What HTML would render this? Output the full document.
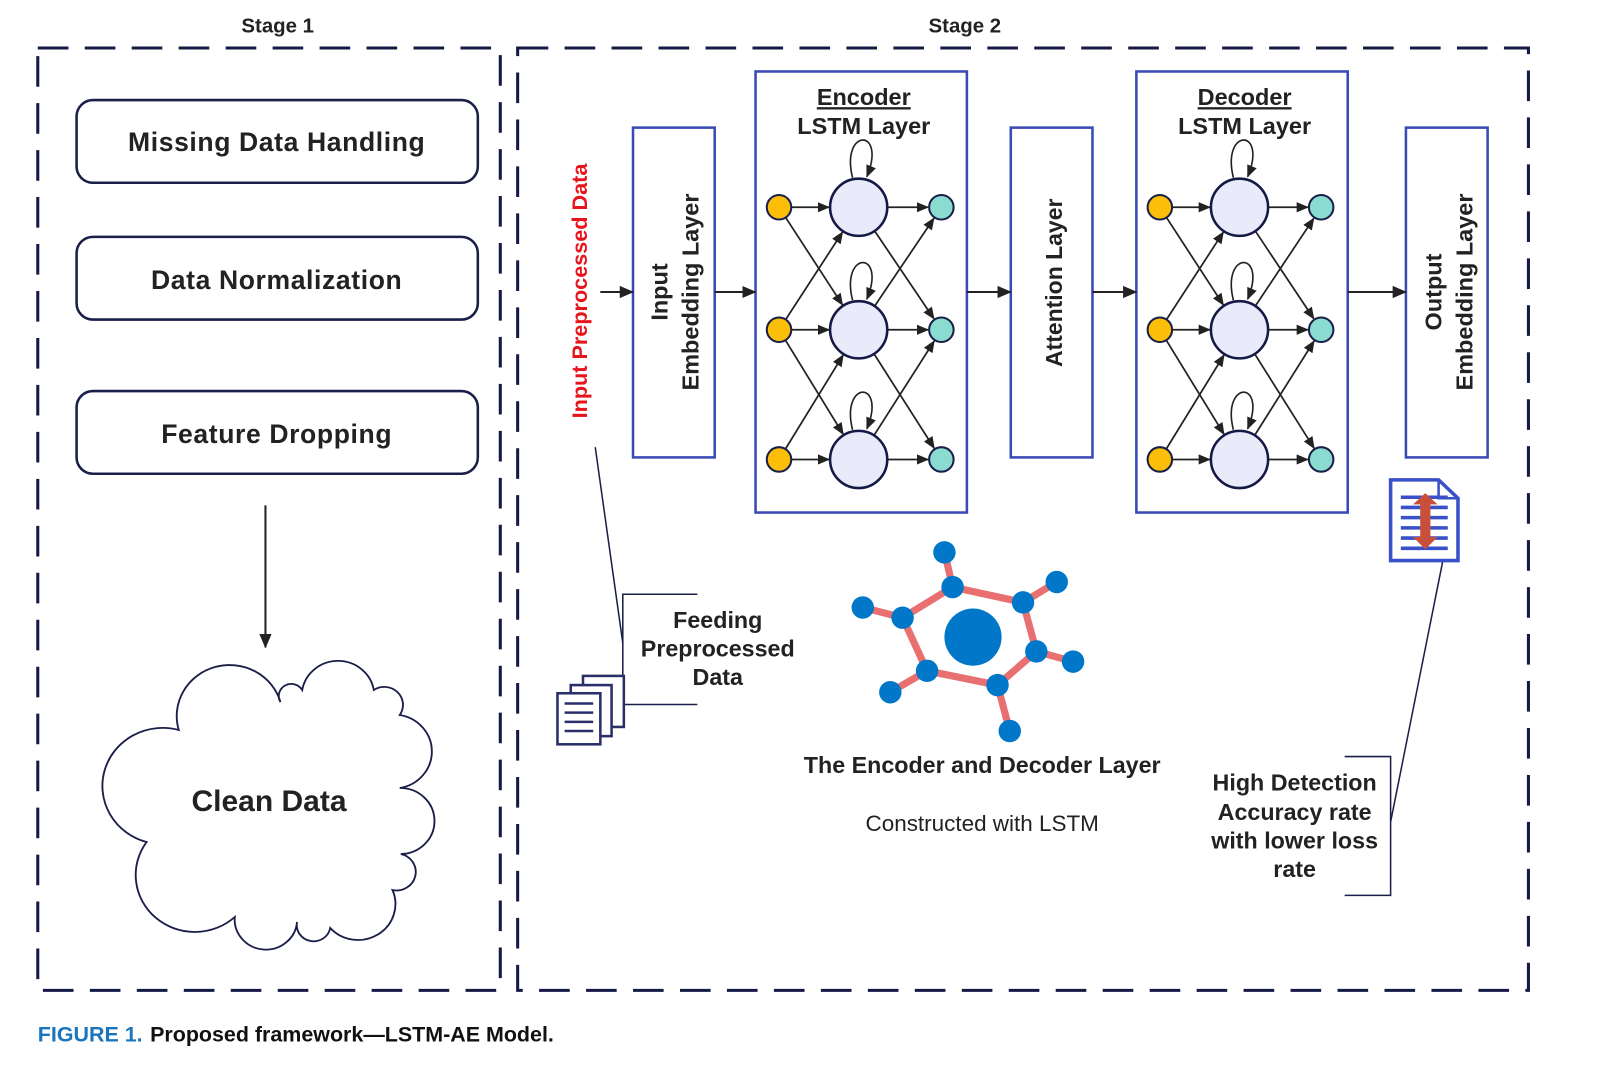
<!DOCTYPE html>
<html><head><meta charset="utf-8"><style>
html,body{margin:0;padding:0;background:#fff;}
svg{display:block;font-family:"Liberation Sans",sans-serif;}
</style></head><body>
<svg id="s" width="1601" height="1070" viewBox="0 0 1601 1070" xmlns="http://www.w3.org/2000/svg">
<defs>
<marker id="a" markerWidth="12" markerHeight="12" refX="11" refY="6" orient="auto" markerUnits="userSpaceOnUse"><path d="M0,1 L12,6 L0,11 Z" fill="#222"/></marker>
<marker id="b" markerWidth="14" markerHeight="14" refX="13" refY="7" orient="auto" markerUnits="userSpaceOnUse"><path d="M0,1 L14,7 L0,13 Z" fill="#222"/></marker>
</defs>
<rect width="1601" height="1070" fill="#fff"/>
<!-- cloud in actual coords -->
<g transform="translate(13.8,0) scale(1.0375,1)">
<path d="M159,730 A50,50 0 0 1 257,702 A11,11 0 0 1 278,690 A35,35 0 0 1 347,690 A18,18 0 0 1 372,715 A37,37 0 0 1 372,788 A33,33 0 0 1 373,854 A18,18 0 0 1 365,890 A36,36 0 0 1 305,928 A16,16 0 0 1 273,922 A30,30 0 0 1 213,917 A57,57 0 0 1 128,842 A58,58 0 0 1 159,730 Z" fill="#fff" stroke="#1a1f4a" stroke-width="1.8"/>
</g>
<text x="269" y="811" font-size="30" font-weight="bold" text-anchor="middle" fill="#222">Clean Data</text>
<g transform="scale(1.021)" id="g">
<text x="272" y="32" font-size="20" font-weight="bold" text-anchor="middle" fill="#222">Stage 1</text>
<text x="945" y="32" font-size="20" font-weight="bold" text-anchor="middle" fill="#222">Stage 2</text>
<path d="M37,47 H490 V970 H37 Z" fill="none" stroke="#141a45" stroke-width="3" stroke-dasharray="30,16"/>
<path d="M507,47 H1497 V970 H507 Z" fill="none" stroke="#141a45" stroke-width="3" stroke-dasharray="30,16"/>
<g fill="none" stroke="#1a1f4a" stroke-width="2.5">
<rect x="75" y="98" width="393" height="81" rx="16"/>
<rect x="75" y="232" width="393" height="81" rx="16"/>
<rect x="75" y="383" width="393" height="81" rx="16"/>
</g>
<g font-size="26" font-weight="bold" text-anchor="middle" fill="#222" letter-spacing="0.6">
<text x="271" y="148">Missing Data Handling</text>
<text x="271" y="283">Data Normalization</text>
<text x="271" y="434">Feature Dropping</text>
</g>
<line x1="260" y1="495" x2="260" y2="634" stroke="#222" stroke-width="2" marker-end="url(#b)"/>
<g fill="#fff" stroke="#3a4bb8" stroke-width="2.5">
<rect x="620" y="125" width="80" height="323"/>
<rect x="740" y="70" width="207" height="432"/>
<rect x="990" y="125" width="80" height="323"/>
<rect x="1113" y="70" width="207" height="432"/>
<rect x="1377" y="125" width="80" height="323"/>
</g>
<g font-size="23" font-weight="bold" text-anchor="middle" fill="#222">
<text x="846" y="103" text-decoration="underline">Encoder</text>
<text x="846" y="131">LSTM Layer</text>
<text x="1219" y="103" text-decoration="underline">Decoder</text>
<text x="1219" y="131">LSTM Layer</text>
<text transform="translate(654,286) rotate(-90)">Input</text>
<text transform="translate(684,286) rotate(-90)">Embedding Layer</text>
<text transform="translate(1040,277) rotate(-90)" font-size="22.5">Attention Layer</text>
<text transform="translate(1412,286) rotate(-90)">Output</text>
<text transform="translate(1442,286) rotate(-90)">Embedding Layer</text>
<text transform="translate(575,285) rotate(-90)" fill="#e8141c" font-size="21.2">Input Preprocessed Data</text>
</g>
<g stroke="#222" stroke-width="2" marker-end="url(#b)">
<line x1="588" y1="286" x2="620" y2="286"/>
<line x1="700" y1="286" x2="740" y2="286"/>
<line x1="947" y1="286" x2="990" y2="286"/>
<line x1="1070" y1="286" x2="1113" y2="286"/>
<line x1="1320" y1="286" x2="1377" y2="286"/>
</g>
<g id="nets"></g>
<g stroke="#1a1f4a" stroke-width="1.5" fill="none">
<polyline points="583,438 610,630"/>
<polyline points="683,582 610,582 610,690 683,690"/>
<polyline points="1413,550 1362,805"/>
<polyline points="1317,741 1362,741 1362,877 1317,877"/>
</g>
<g font-size="22.8" font-weight="bold" text-anchor="middle" fill="#222">
<text x="703" y="615">Feeding</text>
<text x="703" y="643">Preprocessed</text>
<text x="703" y="671">Data</text>
<text x="1268" y="774">High Detection</text>
<text x="1268" y="803">Accuracy rate</text>
<text x="1268" y="831">with lower loss</text>
<text x="1268" y="859">rate</text>
<text x="962" y="757">The Encoder and Decoder Layer</text>
</g>
<text x="962" y="814" font-size="22" text-anchor="middle" fill="#222">Constructed with LSTM</text>
<g fill="#fff" stroke="#2a2f6a" stroke-width="2.5">
<rect x="571" y="662" width="40" height="50"/>
<rect x="559" y="671" width="40" height="50"/>
<rect x="546" y="679" width="42" height="50"/>
</g>
<g stroke="#2a2f6a" stroke-width="2.5">
<line x1="553" y1="689" x2="581" y2="689"/><line x1="553" y1="698" x2="581" y2="698"/>
<line x1="553" y1="707" x2="581" y2="707"/><line x1="553" y1="716" x2="581" y2="716"/>
</g>
<path d="M1362,470 H1409 L1428,488 V549 H1362 Z" fill="#fff" stroke="#3a50c8" stroke-width="3.5"/>
<path d="M1409,470 V488 H1428" fill="none" stroke="#3a50c8" stroke-width="2.5"/>
<g stroke="#3a50c8" stroke-width="3.5">
<line x1="1372" y1="487" x2="1418" y2="487"/><line x1="1372" y1="497" x2="1418" y2="497"/>
<line x1="1372" y1="507" x2="1418" y2="507"/><line x1="1372" y1="517" x2="1418" y2="517"/>
<line x1="1372" y1="527" x2="1418" y2="527"/><line x1="1372" y1="537" x2="1418" y2="537"/>
</g>
<path d="M1396,483 L1408,494 H1401 V526 H1408 L1396,538 L1384,526 H1391 V494 H1384 Z" fill="#c8503a"/>
<g stroke="#e87070" stroke-width="7">
<polygon points="933,575 1002,590 1015,638 977,671 908,657 884,605" fill="none"/>
<line x1="933" y1="575" x2="925" y2="540"/><line x1="1002" y1="590" x2="1035" y2="570"/>
<line x1="1015" y1="638" x2="1051" y2="648"/><line x1="977" y1="671" x2="989" y2="716"/>
<line x1="908" y1="657" x2="872" y2="678"/><line x1="884" y1="605" x2="845" y2="595"/>
</g>
<g fill="#0077c8">
<circle cx="953" cy="624" r="28"/>
<circle cx="933" cy="575" r="11"/><circle cx="1002" cy="590" r="11"/><circle cx="1015" cy="638" r="11"/>
<circle cx="977" cy="671" r="11"/><circle cx="908" cy="657" r="11"/><circle cx="884" cy="605" r="11"/>
<circle cx="925" cy="541" r="11"/><circle cx="1035" cy="570" r="11"/><circle cx="1051" cy="648" r="11"/>
<circle cx="989" cy="716" r="11"/><circle cx="872" cy="678" r="11"/><circle cx="845" cy="595" r="11"/>
</g>
<text x="37" y="1020" font-size="21" font-weight="bold" fill="#1b75bc">FIGURE 1.</text>
<text x="147" y="1020" font-size="21" font-weight="bold" fill="#111">Proposed framework—LSTM-AE Model.</text>
</g>
</svg>
<script>
(function(){
var g=document.getElementById("nets"),ys=[203,323,450],out="";
function ln(x1,y1,r1,x2,y2,r2){var dx=x2-x1,dy=y2-y1,d=Math.sqrt(dx*dx+dy*dy),ux=dx/d,uy=dy/d;
return '<line x1="'+(x1+ux*r1)+'" y1="'+(y1+uy*r1)+'" x2="'+(x2-ux*r2)+'" y2="'+(y2-uy*r2)+'" stroke="#222" stroke-width="1.7" marker-end="url(#a)"/>';}
function net(x0,xb,x1){
 for(var i=0;i<3;i++)for(var j=0;j<3;j++)if(Math.abs(i-j)<=1){out+=ln(x0,ys[i],12,xb,ys[j],29);out+=ln(xb,ys[j],28,x1,ys[i],13);}
 for(var k=0;k<3;k++){var y=ys[k];out+='<path d="M'+(xb-6)+','+(y-29)+' C'+(xb-18)+','+(y-78)+' '+(xb+28)+','+(y-78)+' '+(xb+8)+','+(y-30)+'" fill="none" stroke="#222" stroke-width="1.6" marker-end="url(#a)"/>';
 out+='<circle cx="'+x0+'" cy="'+y+'" r="12" fill="#fbbf0a" stroke="#1a1f4a" stroke-width="2"/>';
 out+='<circle cx="'+xb+'" cy="'+y+'" r="28" fill="#e9ebfb" stroke="#141a45" stroke-width="2.5"/>';
 out+='<circle cx="'+x1+'" cy="'+y+'" r="12" fill="#8adcd0" stroke="#1a1f4a" stroke-width="2"/>';}
}
net(763,841,922);net(1136,1214,1294);
g.innerHTML=out;
})();
</script>
</body></html>
